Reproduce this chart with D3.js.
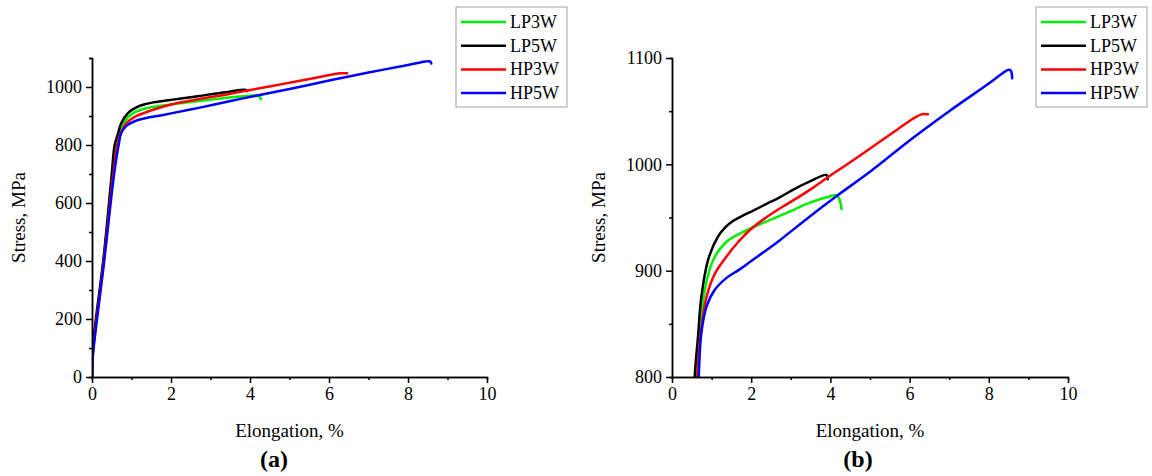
<!DOCTYPE html>
<html>
<head>
<meta charset="utf-8">
<script src="https://cdn.jsdelivr.net/npm/d3@7/dist/d3.min.js"></script>
<style>
  body { margin: 0; background: #fff; }
  svg { display: block; }
  text { font-family: "Liberation Serif", "Times New Roman", serif; fill: #000; }
</style>
</head>
<body>
<svg id="chart" width="1152" height="476"></svg>
<script>
// series names and colours
var names = ["LP3W", "LP5W", "HP3W", "HP5W"];
var colors = ["#00ee00", "#000000", "#ff0000", "#0000ff"];

// [elongation %, stress MPa]
var lp3w = [[0,0],[0.02,90],[0.3,410],[0.52,700],[0.615,800],[0.70,838],[0.83,882],[1.04,910],[1.37,927],[1.88,938],[2.5,948],[3.0,956],[3.48,964],[4.0,970],[4.15,971],[4.22,968],[4.26,963],[4.28,958]];
var lp5w = [[0,0],[0.02,100],[0.3,420],[0.5,700],[0.573,800],[0.657,838],[0.74,875],[0.91,910],[1.16,932],[1.35,941],[1.55,947],[1.8,952],[2.05,956.5],[2.4,963],[2.72,969],[3.1,977],[3.48,984],[3.9,990],[3.93,986]];
var hp3w = [[0,0],[0.02,80],[0.3,400],[0.54,700],[0.64,800],[0.72,838],[0.87,875],[1.08,897],[1.37,913],[1.65,926],[1.96,938],[2.3,948],[2.7,958],[3.1,967],[3.48,976],[3.9,987],[4.5,1002],[5.2,1020],[5.7,1033],[6.09,1043],[6.3,1047],[6.46,1047]];
var hp5w = [[0,0],[0.02,70],[0.3,390],[0.56,700],[0.674,800],[0.74,841],[0.87,866],[1.08,882],[1.37,893],[1.7,901],[2.0,909],[2.7,928],[3.48,951],[4.15,970],[5.0,993],[6.09,1025],[7.0,1050],[8.0,1076],[8.44,1088],[8.53,1089],[8.57,1087],[8.59,1081]];
var series = [lp3w, lp5w, hp3w, hp5w];

// tick values
var xMajor = [0, 2, 4, 6, 8, 10];
var xMinor = [1, 3, 5, 7, 9];
var yMajorA = [0, 200, 400, 600, 800, 1000];
var yMinorA = [100, 300, 500, 700, 900, 1100];
var yMajorB = [800, 900, 1000, 1100];
var yMinorB = [850, 950, 1050];

var svg = d3.select("#chart");

function drawPanel(id, left, right, yDomain, yMajor, yMinor, label, labelX, legendX) {
    var top = 58, bottom = 377;
    var x = d3.scaleLinear().domain([0, 10]).range([left, right]);
    var y = d3.scaleLinear().domain(yDomain).range([bottom, top]);
    var g = svg.append("g");

    g.append("clipPath").attr("id", "clip" + id)
        .append("rect")
        .attr("x", left).attr("y", top - 10)
        .attr("width", right - left + 10).attr("height", bottom - top + 10);

    var line = d3.line()
        .x(function(d) { return x(d[0]); })
        .y(function(d) { return y(d[1]); })
        .curve(d3.curveCatmullRom.alpha(0.5));

    var lines = g.append("g").attr("clip-path", "url(#clip" + id + ")");
    series.forEach(function(s, i) {
        lines.append("path")
            .attr("d", line(s))
            .attr("fill", "none")
            .attr("stroke", colors[i])
            .attr("stroke-width", 2.5)
            .attr("stroke-linejoin", "round")
            .attr("stroke-linecap", "round");
    });

    // minor ticks
    g.append("g").attr("transform", "translate(0," + bottom + ")")
        .call(d3.axisBottom(x).tickValues(xMinor).tickSize(3).tickFormat(""))
        .call(styleAxis);
    g.append("g").attr("transform", "translate(" + left + ",0)")
        .call(d3.axisLeft(y).tickValues(yMinor).tickSize(3).tickFormat(""))
        .call(styleAxis);
    // major ticks
    g.append("g").attr("transform", "translate(0," + bottom + ")")
        .call(d3.axisBottom(x).tickValues(xMajor).tickSize(6).tickPadding(4).tickSizeOuter(0).tickFormat(d3.format("d")))
        .call(styleAxis);
    g.append("g").attr("transform", "translate(" + left + ",0)")
        .call(d3.axisLeft(y).tickValues(yMajor).tickSize(6).tickPadding(4).tickSizeOuter(0).tickFormat(d3.format("d")))
        .call(styleAxis);

    g.append("text")
        .attr("x", (left + right) / 2).attr("y", 437)
        .attr("text-anchor", "middle")
        .style("font-size", "19px")
        .text("Elongation, %");

    g.append("text")
        .attr("transform", "translate(" + (left - 67) + "," + ((top + bottom) / 2) + ") rotate(-90)")
        .attr("text-anchor", "middle")
        .style("font-size", "19px")
        .text("Stress, MPa");

    g.append("text")
        .attr("x", labelX).attr("y", 467)
        .attr("text-anchor", "middle")
        .style("font-size", "24px")
        .style("font-weight", "bold")
        .text(label);

    // legend
    var lg = g.append("g").attr("transform", "translate(" + legendX + ",7)");
    lg.append("rect")
        .attr("width", 111).attr("height", 100)
        .attr("fill", "#fff")
        .attr("stroke", "#a0a0a0")
        .attr("stroke-width", 1);
    names.forEach(function(n, i) {
        var yy = 15 + i * 23.7;
        lg.append("line")
            .attr("x1", 5).attr("x2", 50)
            .attr("y1", yy).attr("y2", yy)
            .attr("stroke", colors[i])
            .attr("stroke-width", 2.5);
        lg.append("text")
            .attr("x", 54).attr("y", yy + 6)
            .style("font-size", "18px")
            .text(n);
    });
}

function styleAxis(sel) {
    sel.selectAll("path, line").attr("stroke", "#000").attr("stroke-width", 1.5);
    sel.selectAll("text").style("font-size", "18px")
        .style("font-family", "'Liberation Serif', 'Times New Roman', serif")
        .attr("fill", "#000");
}

drawPanel("a", 92, 487, [0, 1100], yMajorA, yMinorA, "(a)", 274, 456);
drawPanel("b", 672, 1068, [800, 1100], yMajorB, yMinorB, "(b)", 858, 1036);
</script>
</body>
</html>
